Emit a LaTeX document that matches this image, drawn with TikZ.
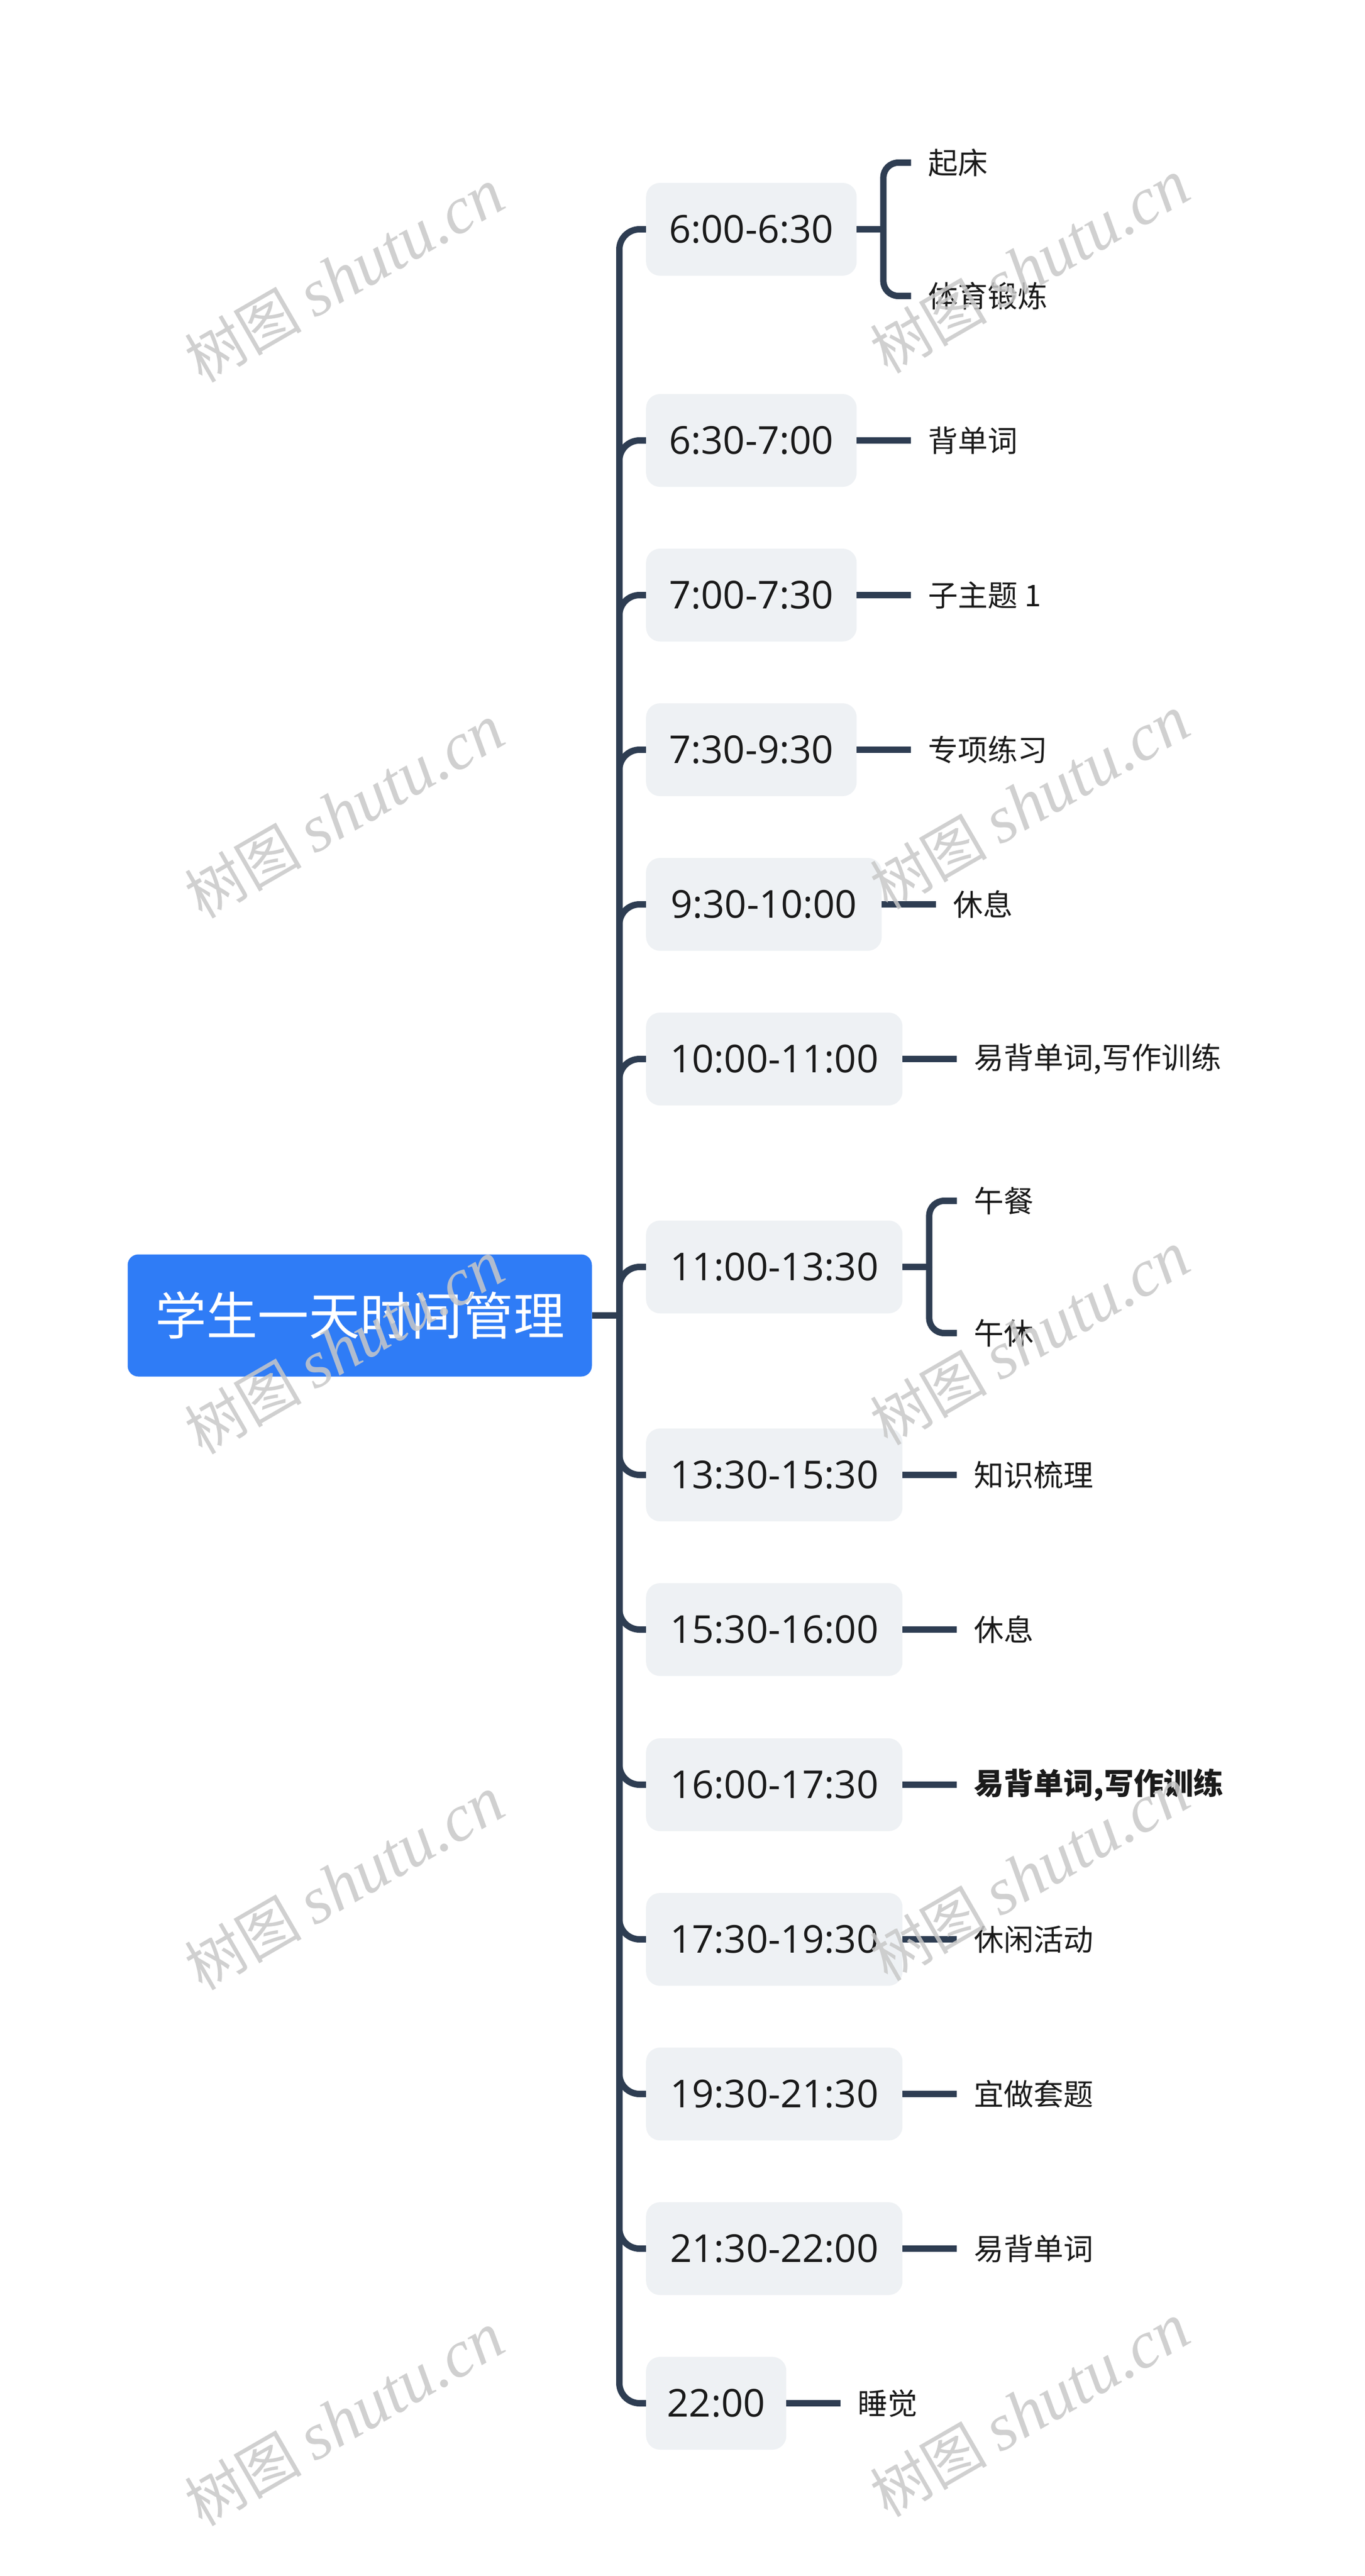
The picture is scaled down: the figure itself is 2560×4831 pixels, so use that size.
\documentclass[tikz,border=0pt]{standalone}
\usepackage{fontspec}
\setmainfont{Open Sans}
\newfontfamily\cjk{Noto Sans CJK SC}
\newfontfamily\wmlat{Liberation Serif}
\definecolor{linec}{HTML}{2E3D52}
\definecolor{boxc}{HTML}{EEF1F4}
\definecolor{rootc}{HTML}{2F7CF6}
\definecolor{textc}{HTML}{1A1A1A}
\definecolor{wmc}{HTML}{C8C8C8}
\begin{document}
\begin{tikzpicture}[x=1pt,y=-1pt,
  conn/.style={draw=linec,line width=12pt},
  rootbox/.style={fill=rootc,rounded corners=20pt,minimum width=871pt,minimum height=229pt,
    text=white,inner sep=0pt,font=\cjk\fontsize{96}{110}\selectfont},
  tbox/.style={fill=boxc,rounded corners=26pt,minimum height=174pt,inner xsep=0pt,
    anchor=west,text=textc,font=\fontsize{72}{86}\selectfont},
  wa/.style={minimum width=395pt},
  wb/.style={minimum width=442pt},
  wc/.style={minimum width=481pt},
  wd/.style={minimum width=263pt},
  leaf/.style={anchor=west,inner xsep=32pt,inner ysep=0pt,text=textc,
    font=\cjk\fontsize{56}{66}\selectfont},
  wm/.style={rotate=30,text=wmc,opacity=0.85,inner sep=0pt,font=\cjk\fontsize{110}{120}\selectfont}
]
\useasboundingbox (0,0) rectangle (2560,4831);
\fill[white] (0,0) rectangle (2560,4831);

% root
\node[rootbox] (R) at (675,2467) {学生一天时间管理};
\coordinate (J) at (1162,2467);
\draw[conn] (R.east) -- (J);

% time boxes
\node[tbox,wa] (c1) at (1212,430) {6:00-6:30};
\node[tbox,wa] (c2) at (1212,826) {6:30-7:00};
\node[tbox,wa] (c3) at (1212,1116) {7:00-7:30};
\node[tbox,wa] (c4) at (1212,1406) {7:30-9:30};
\node[tbox,wb] (c5) at (1212,1696) {9:30-10:00};
\node[tbox,wc] (c6) at (1212,1986) {10:00-11:00};
\node[tbox,wc] (c7) at (1212,2376) {11:00-13:30};
\node[tbox,wc] (c8) at (1212,2766) {13:30-15:30};
\node[tbox,wc] (c9) at (1212,3056) {15:30-16:00};
\node[tbox,wc] (c10) at (1212,3347) {16:00-17:30};
\node[tbox,wc] (c11) at (1212,3637) {17:30-19:30};
\node[tbox,wc] (c12) at (1212,3927) {19:30-21:30};
\node[tbox,wc] (c13) at (1212,4217) {21:30-22:00};
\node[tbox,wd] (c14) at (1212,4507) {22:00};

\foreach \c in {c1,c2,c3,c4,c5,c6,c7,c8,c9,c10,c11,c12,c13,c14}
  \draw[conn,rounded corners=38pt] (J) |- (\c.west);

% leaves
\node[leaf] (g1a) at ([xshift=102pt,yshift=125pt]c1.east) {起床};
\node[leaf] (g1b) at ([xshift=102pt,yshift=-125pt]c1.east) {体育锻炼};
\node[leaf] (g2) at ([xshift=102pt]c2.east) {背单词};
\node[leaf] (g3) at ([xshift=102pt]c3.east) {子主题 1};
\node[leaf] (g4) at ([xshift=102pt]c4.east) {专项练习};
\node[leaf] (g5) at ([xshift=102pt]c5.east) {休息};
\node[leaf] (g6) at ([xshift=102pt]c6.east) {易背单词,写作训练};
\node[leaf] (g7a) at ([xshift=102pt,yshift=124pt]c7.east) {午餐};
\node[leaf] (g7b) at ([xshift=102pt,yshift=-124pt]c7.east) {午休};
\node[leaf] (g8) at ([xshift=102pt]c8.east) {知识梳理};
\node[leaf] (g9) at ([xshift=102pt]c9.east) {休息};
\node[leaf,font=\cjk\bfseries\fontsize{56}{66}\selectfont] (g10) at ([xshift=102pt]c10.east) {易背单词,写作训练};
\node[leaf] (g11) at ([xshift=102pt]c11.east) {休闲活动};
\node[leaf] (g12) at ([xshift=102pt]c12.east) {宜做套题};
\node[leaf] (g13) at ([xshift=102pt]c13.east) {易背单词};
\node[leaf] (g14) at ([xshift=102pt]c14.east) {睡觉};

\foreach \c/\g in {c2/g2,c3/g3,c4/g4,c5/g5,c6/g6,c8/g8,c9/g9,c10/g10,c11/g11,c12/g12,c13/g13,c14/g14}
  \draw[conn] (\c.east) -- (\g.west);

\draw[conn] (c1.east) -- ++(50,0) coordinate (b1);
\draw[conn,rounded corners=28pt] (b1) |- (g1a.west);
\draw[conn,rounded corners=28pt] (b1) |- (g1b.west);
\draw[conn] (c7.east) -- ++(50,0) coordinate (b7);
\draw[conn,rounded corners=28pt] (b7) |- (g7a.west);
\draw[conn,rounded corners=28pt] (b7) |- (g7b.west);

% watermarks
\foreach \k in {0,1,2,3,4}{
  \node[wm] (wl\k) at (646,517+1005*\k) {树图 {\wmlat\itshape\fontsize{125}{130}\selectfont shutu.cn}};
  \node[wm] (wr\k) at (1932,500+1005*\k) {树图 {\wmlat\itshape\fontsize{125}{130}\selectfont shutu.cn}};
}
\end{tikzpicture}
\end{document}
